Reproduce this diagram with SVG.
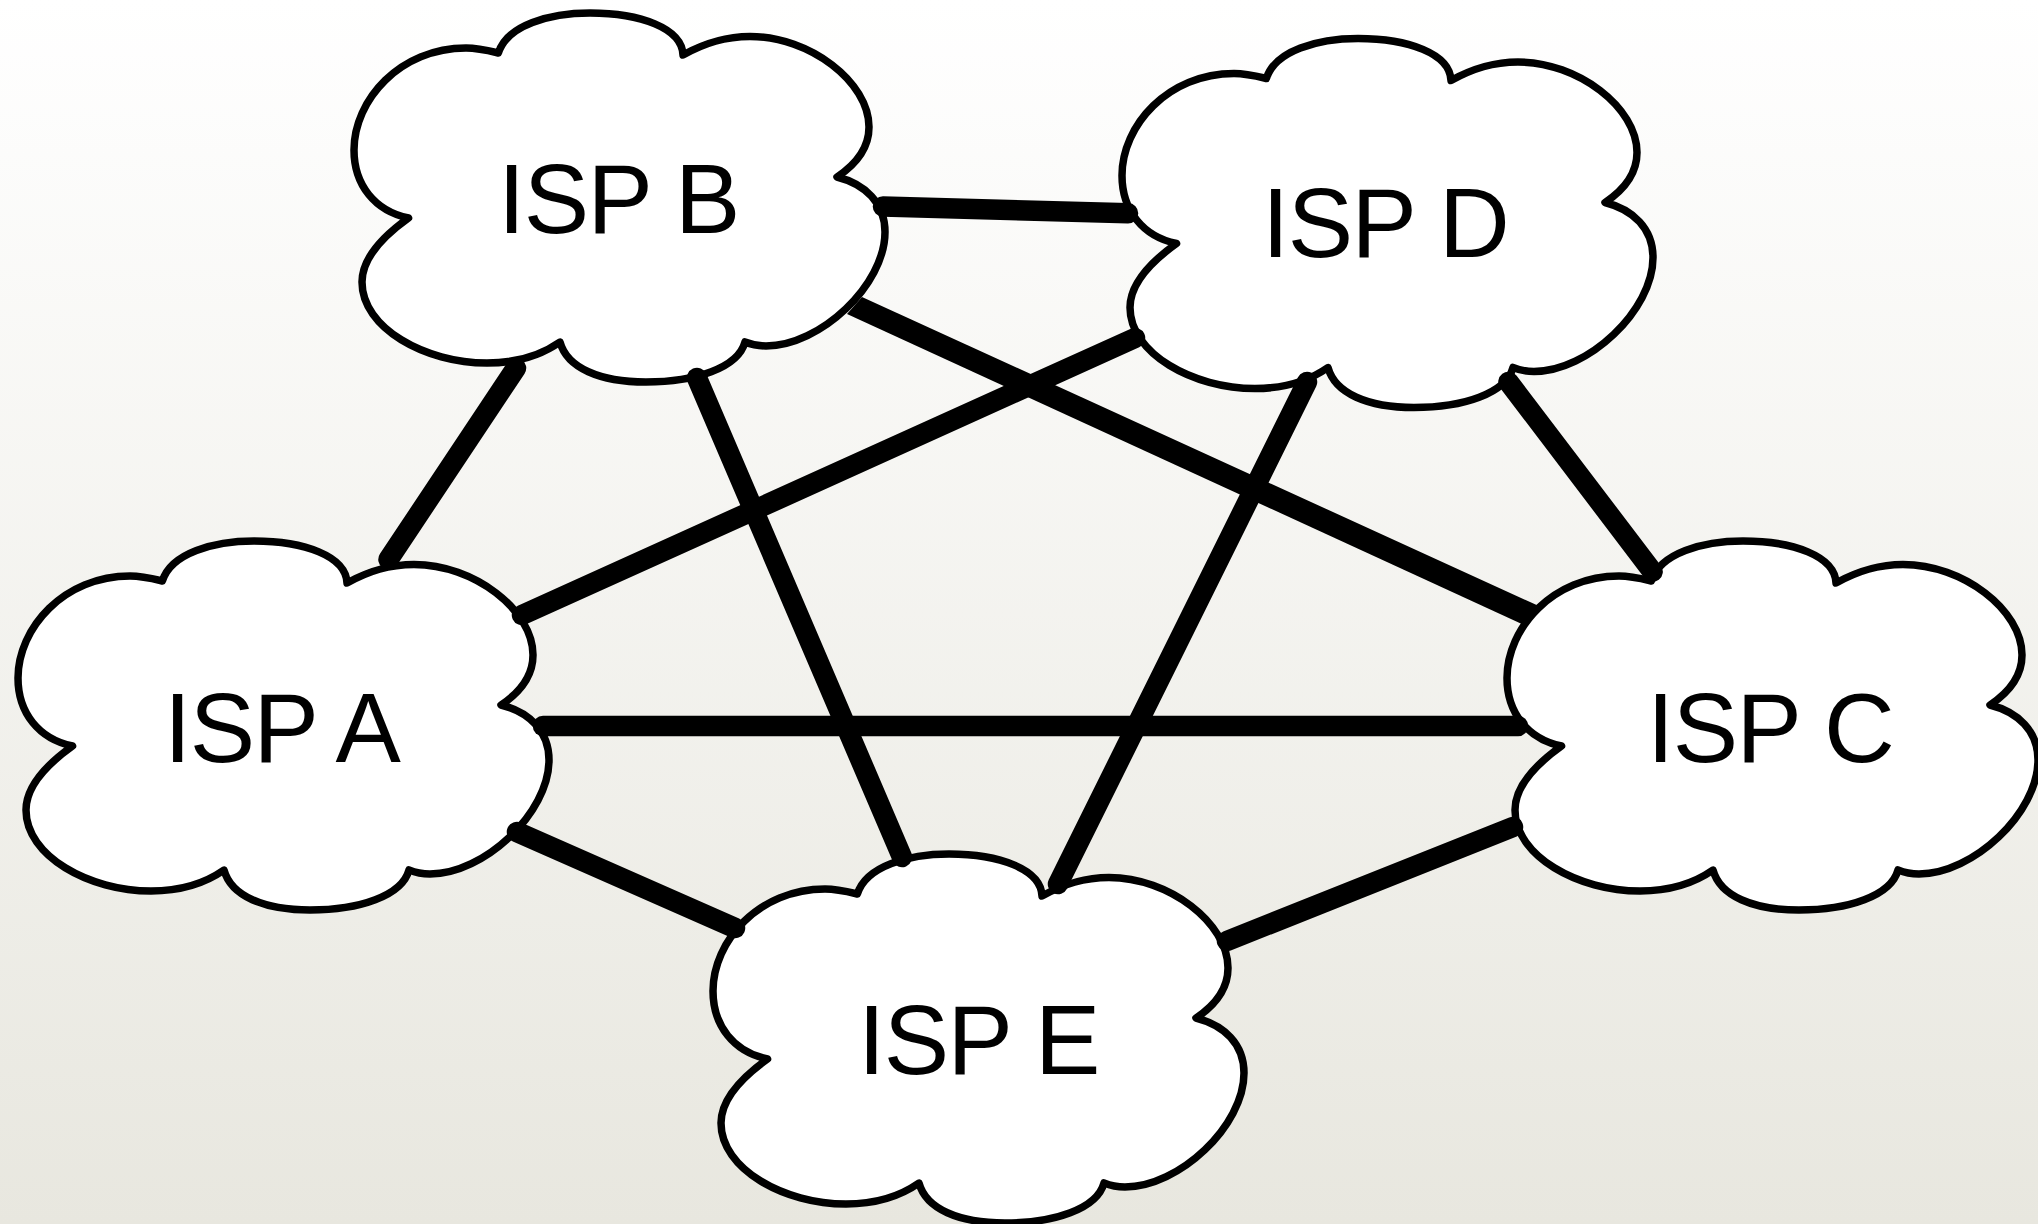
<svg xmlns="http://www.w3.org/2000/svg" xmlns:xlink="http://www.w3.org/1999/xlink" width="2038" height="1224" viewBox="0 0 2038 1224">
<style>
.cloud{fill:#fff;stroke:#000;stroke-width:7.5;stroke-linejoin:round}
.label{font-family:"Liberation Sans",Arial,sans-serif;font-size:98px;letter-spacing:-1.6px;fill:#000}
.link{stroke:#000;stroke-width:20.5;stroke-linecap:round;fill:none}
.linkf{fill:#000;stroke:none}
</style>
<defs>
<linearGradient id="bg" x1="0" y1="0" x2="0" y2="1"><stop offset="0" stop-color="#ffffff"/><stop offset="1" stop-color="#e8e7df"/></linearGradient>
<path id="cloudShape" d="M498.4 53C507 25 550 13 590 13C640 13 682 28 683 55C705 43 725 36.5 750 36.5C810 36.5 869 82 869 127C869 148 855 165 837 177C865 184 885 203 885 232C885 285 820 346 766 346C758 346 750 344 745 342C738 368 695 382 646 382C600 382 567 368 560 342C540 356 515 363 487 363C425 363 362 328 362 282C362 258 382 237 408.5 218C375 211 354 185 354 150C354 100 400 48 466 48C478 48 488 50.500 498.4 53Z"/>
</defs>
<rect width="2038" height="1224" fill="url(#bg)"/>
<g id="isp-a"><use xlink:href="#cloudShape" href="#cloudShape" class="cloud" transform="translate(-336 528)"/><text class="label" x="164" y="762">ISP A</text></g>
<g id="isp-b"><use xlink:href="#cloudShape" href="#cloudShape" class="cloud"/><text class="label" x="498" y="233">ISP B</text></g>
<g id="isp-c"><use xlink:href="#cloudShape" href="#cloudShape" class="cloud" transform="translate(1153 528)"/><text class="label" x="1647" y="762">ISP C</text></g>
<g id="isp-d"><use xlink:href="#cloudShape" href="#cloudShape" class="cloud" transform="translate(768 25.5)"/><text class="label" x="1262" y="257">ISP D</text></g>
<g id="isp-e"><use xlink:href="#cloudShape" href="#cloudShape" class="cloud" transform="translate(359 841)"/><text class="label" x="858" y="1074">ISP E</text></g>
<g id="connectors">
<line class="link" x1="516" y1="368" x2="388.500" y2="559.500"/>
<line class="link" x1="883" y1="206.5" x2="1128" y2="213.3"/>
<line class="link" x1="522" y1="615" x2="1135" y2="338"/>
<path class="linkf" d="M862 297L1541 607L1524 625L847 314Z"/>
<line class="link" x1="543" y1="726" x2="1518" y2="726"/>
<line class="link" x1="517" y1="832" x2="735" y2="928"/>
<line class="link" x1="697" y1="378" x2="902" y2="857"/>
<line class="link" x1="1307" y1="382" x2="1058" y2="884"/>
<line class="link" x1="1508.5" y1="382" x2="1652.6" y2="571.7"/>
<line class="link" x1="1227" y1="941" x2="1513" y2="827"/>
</g>
</svg>
